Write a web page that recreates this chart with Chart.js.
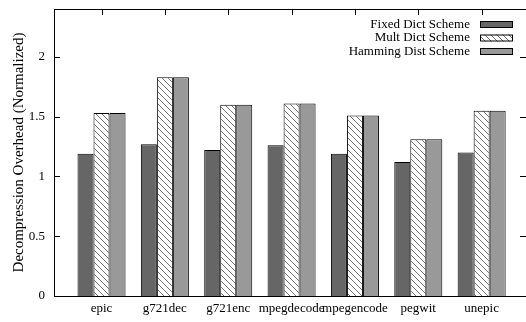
<!DOCTYPE html>
<html>
<head>
<meta charset="utf-8">
<script src="https://cdn.jsdelivr.net/npm/chart.js@4"></script>
<style>
  html, body { margin: 0; padding: 0; background: #fff; }
  #wrap { width: 526px; height: 322px; }
</style>
</head>
<body>
<div id="wrap"><canvas id="overheadChart"></canvas></div>
<script>
const benchmarks = ['epic', 'g721dec', 'g721enc', 'mpegdecode', 'mpegencode', 'pegwit', 'unepic'];
const fixedDict = [1.19, 1.27, 1.22, 1.26, 1.19, 1.12, 1.20];
const multDict = [1.53, 1.83, 1.60, 1.61, 1.51, 1.31, 1.55];
const hammingDist = [1.53, 1.83, 1.60, 1.61, 1.51, 1.31, 1.55];
const yTicks = [0, 0.5, 1, 1.5, 2];

const serif = "'Liberation Serif', 'DejaVu Serif', serif";

// diagonal hatch for the Mult Dict bars
function hatch() {
  const c = document.createElement('canvas');
  c.width = 6; c.height = 6;
  const g = c.getContext('2d');
  g.fillStyle = '#fff';
  g.fillRect(0, 0, 6, 6);
  g.strokeStyle = '#777';
  g.lineWidth = 1;
  g.beginPath();
  g.moveTo(-1, -1); g.lineTo(7, 7);
  g.moveTo(-1, 5); g.lineTo(1, 7);
  g.moveTo(5, -1); g.lineTo(7, 1);
  g.stroke();
  return g.createPattern(c, 'repeat');
}

const toPoints = arr => arr.map((v, i) => ({ x: i, y: v }));

// gnuplot style frame: top line, inward ticks, legend at top right
const framePlugin = {
  id: 'frame',
  afterDatasetsDraw(chart) {
    const { ctx, chartArea: a, scales } = chart;
    ctx.save();
    ctx.strokeStyle = '#000';
    ctx.lineWidth = 1;
    ctx.beginPath();
    ctx.moveTo(a.left, a.top + 0.5);
    ctx.lineTo(a.right, a.top + 0.5);
    scales.y.ticks.forEach(t => {
      if (t.value === 0) return;
      const y = Math.round(scales.y.getPixelForValue(t.value)) + 0.5;
      ctx.moveTo(a.left, y); ctx.lineTo(a.left + 6, y);
      ctx.moveTo(a.right, y); ctx.lineTo(a.right - 6, y);
    });
    scales.x.ticks.forEach(t => {
      const x = Math.round(scales.x.getPixelForValue(t.value)) + 0.5;
      ctx.moveTo(x, a.top); ctx.lineTo(x, a.top + 6);
    });
    ctx.stroke();

    // legend
    ctx.font = '13px ' + serif;
    ctx.textAlign = 'right';
    ctx.textBaseline = 'middle';
    chart.data.datasets.forEach((ds, i) => {
      const cy = a.top + 15.5 + i * 13.5;
      const bx = a.right - 46;
      ctx.fillStyle = '#000';
      ctx.fillText(ds.label, bx - 10, cy);
      ctx.fillStyle = ds.backgroundColor;
      ctx.fillRect(bx, cy - 3.5, 33, 7);
      ctx.strokeRect(bx + 0.5, cy - 3, 32, 6);
    });
    ctx.restore();
  }
};

new Chart('overheadChart', {
  type: 'bar',
  data: {
    datasets: [
      { label: 'Fixed Dict Scheme', data: toPoints(fixedDict), backgroundColor: '#666666' },
      { label: 'Mult Dict Scheme', data: toPoints(multDict), backgroundColor: hatch() },
      { label: 'Hamming Dist Scheme', data: toPoints(hammingDist), backgroundColor: '#999999' }
    ]
  },
  options: {
    responsive: true,
    maintainAspectRatio: false,
    animation: false,
    layout: { padding: { top: 9, right: 0, left: 0, bottom: 0 } },
    datasets: {
      bar: {
        borderColor: '#000',
        borderWidth: 1,
        borderSkipped: 'bottom',
        categoryPercentage: 0.758,
        barPercentage: 1
      }
    },
    plugins: {
      legend: { display: false },
      tooltip: { enabled: false }
    },
    scales: {
      x: {
        type: 'linear',
        offset: false,
        min: -0.75,
        max: 6.7,
        grid: { display: false, drawTicks: false, offset: false },
        border: { display: true, color: '#000', width: 1 },
        afterFit: s => { s.height = 26; s.paddingLeft = 0; s.paddingRight = 0; },
        ticks: {
          stepSize: 1,
          includeBounds: false,
          autoSkip: false,
          maxRotation: 0,
          padding: 5,
          color: '#000',
          font: { family: serif, size: 13 },
          callback: v => benchmarks[v] ?? ''
        }
      },
      y: {
        min: 0,
        max: 2.4,
        grid: { display: false, drawTicks: false },
        border: { display: true, color: '#000', width: 1 },
        afterFit: s => { s.width = 54; s.paddingTop = 0; s.paddingBottom = 0; },
        afterBuildTicks: s => { s.ticks = yTicks.map(v => ({ value: v })); },
        ticks: {
          padding: 9,
          color: '#000',
          font: { family: serif, size: 13 },
          callback: v => String(v)
        },
        title: {
          display: true,
          text: 'Decompression Overhead (Normalized)',
          color: '#000',
          font: { family: serif, size: 15 },
          padding: { top: 10, bottom: 0 }
        }
      }
    }
  },
  plugins: [framePlugin]
});
</script>
</body>
</html>
